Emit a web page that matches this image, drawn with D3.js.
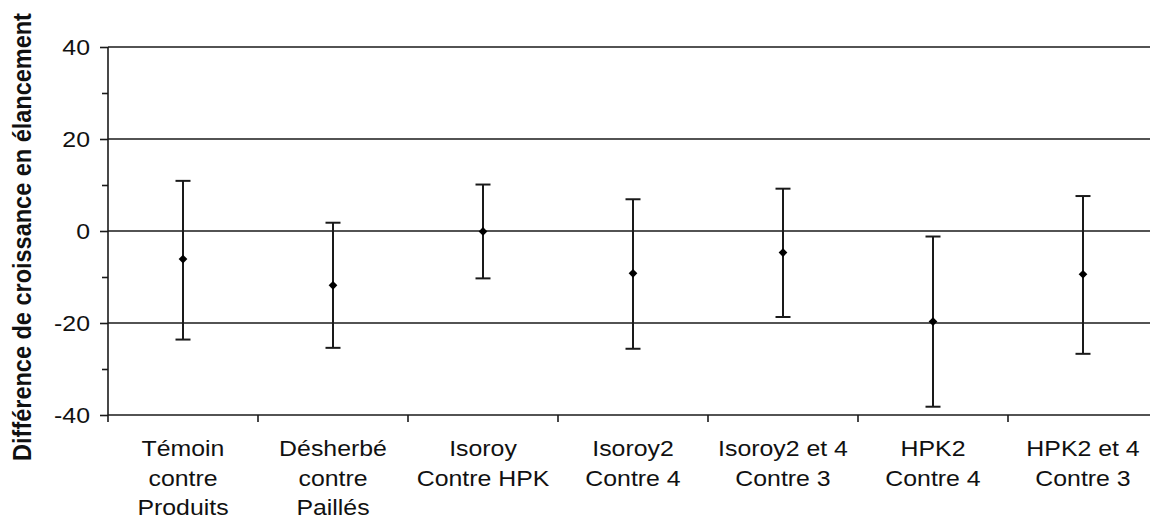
<!DOCTYPE html>
<html>
<head>
<meta charset="utf-8">
<script src="https://cdn.jsdelivr.net/npm/d3@7"></script>
<style>
  body { margin: 0; background: #fff; }
  text { font-family: "Liberation Sans", Arial, sans-serif; fill: #111; }
</style>
</head>
<body>
<svg width="1150" height="520"></svg>
<script>
// categories, two lines each (some three)
var categories = [
    ["Témoin", "contre", "Produits"],
    ["Désherbé", "contre", "Paillés"],
    ["Isoroy", "Contre HPK"],
    ["Isoroy2", "Contre 4"],
    ["Isoroy2 et 4", "Contre 3"],
    ["HPK2", "Contre 4"],
    ["HPK2 et 4", "Contre 3"]
];
var means = [-6.1, -11.8, -0.1, -9.2, -4.7, -19.7, -9.4];
var upper = [10.9, 1.8, 10.1, 6.9, 9.2, -1.2, 7.6];
var lower = [-23.6, -25.4, -10.3, -25.6, -18.7, -38.2, -26.7];
var yTicks = [-40, -20, 0, 20, 40];
var yMinor = [-30, -10, 10, 30];
var yTitle = "Différence de croissance en élancement";

var svg = d3.select("svg");
var sx = 1.13; // the picture's text is a little wide

var pLeft = 108, pTop = 47, pBottom = 415;

// band scale, the last band runs past the right edge
var scX = d3.scaleBand()
    .domain(d3.range(categories.length))
    .range([pLeft, pLeft + 150 * categories.length]);
var scY = d3.scaleLinear().domain([-40, 40]).range([pBottom, pTop]);

// gridlines
svg.append("g").selectAll("line")
    .data(yTicks.filter(d => d > -40)).enter()
    .append("line")
    .attr("x1", pLeft).attr("x2", 1150)
    .attr("y1", d => scY(d)).attr("y2", d => scY(d))
    .attr("stroke", "#1a1a1a").attr("stroke-width", 1.6);

// y axis with major and minor ticks
var gy = svg.append("g").attr("transform", "translate(" + pLeft + ",0)");
gy.call(d3.axisLeft(scY).tickValues(yTicks).tickSize(8).tickFormat(""));
gy.append("g").call(d3.axisLeft(scY).tickValues(yMinor).tickSize(6).tickFormat(""));
gy.selectAll("path").remove();
gy.selectAll("line").attr("stroke", "#1a1a1a").attr("stroke-width", 1.6);
gy.append("line").attr("x1", 0).attr("x2", 0)
    .attr("y1", pTop).attr("y2", pBottom + 7)
    .attr("stroke", "#1a1a1a").attr("stroke-width", 1.6);

// y tick labels
svg.append("g").selectAll("text")
    .data(yTicks).enter()
    .append("text")
    .attr("transform", d => "translate(90," + (scY(d) + 8) + ") scale(" + sx + ",1)")
    .attr("text-anchor", "end")
    .attr("font-size", 22)
    .text(d => d);

// x axis: line and ticks at band edges
svg.append("line")
    .attr("x1", pLeft).attr("x2", 1150)
    .attr("y1", pBottom).attr("y2", pBottom)
    .attr("stroke", "#1a1a1a").attr("stroke-width", 1.6);
svg.append("g").selectAll("line")
    .data(d3.range(1, categories.length)).enter()
    .append("line")
    .attr("x1", d => scX(d)).attr("x2", d => scX(d))
    .attr("y1", pBottom).attr("y2", pBottom + 7)
    .attr("stroke", "#1a1a1a").attr("stroke-width", 1.6);

// x labels
var cx = i => scX(i) + scX.bandwidth() / 2;
var lab = svg.append("g").selectAll("g")
    .data(categories).enter()
    .append("g")
    .attr("transform", (d, i) => "translate(" + cx(i) + ",0)");
lab.selectAll("text")
    .data(d => d).enter()
    .append("text")
    .attr("transform", (d, j) => "translate(0," + (456 + j * 29.5) + ") scale(" + sx + ",1)")
    .attr("text-anchor", "middle")
    .attr("font-size", 22)
    .text(d => d);

// error bars
var eb = svg.append("g").attr("stroke", "#1a1a1a").attr("stroke-width", 2);
means.forEach(function(m, i) {
    var x = cx(i);
    eb.append("line").attr("x1", x).attr("x2", x)
        .attr("y1", scY(upper[i])).attr("y2", scY(lower[i]));
    [upper[i], lower[i]].forEach(function(v) {
        eb.append("line").attr("x1", x - 7.5).attr("x2", x + 7.5)
            .attr("y1", scY(v)).attr("y2", scY(v));
    });
});

// diamond markers
svg.append("g").selectAll("path")
    .data(means).enter()
    .append("path")
    .attr("d", d3.symbol(d3.symbolSquare, 38))
    .attr("transform", (d, i) => "translate(" + cx(i) + "," + scY(d) + ") rotate(45)")
    .attr("fill", "#000");

// y title
svg.append("text")
    .attr("transform", "translate(31,237) scale(" + sx + ",1) rotate(-90)")
    .attr("text-anchor", "middle")
    .attr("font-size", 23.5)
    .attr("font-weight", "bold")
    .text(yTitle);
</script>
</body>
</html>
